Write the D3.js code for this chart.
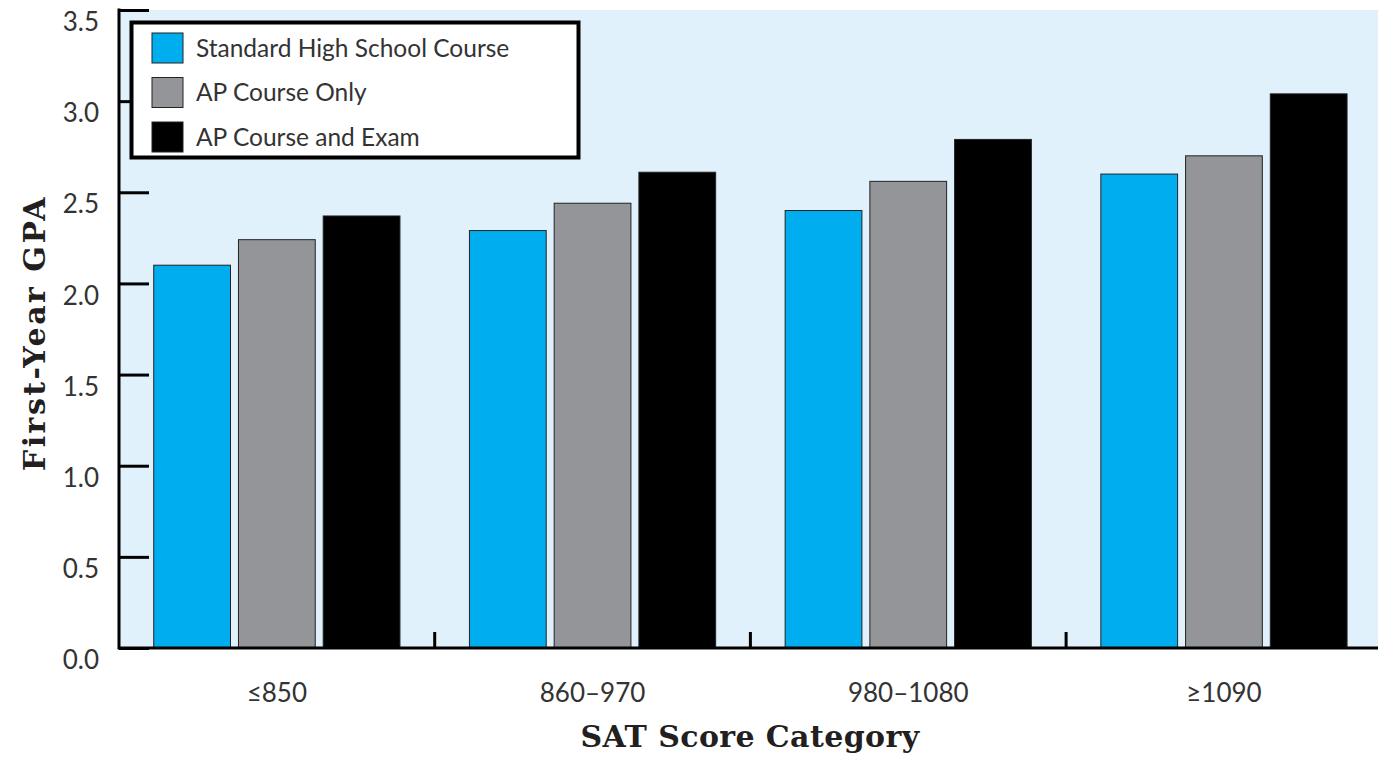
<!DOCTYPE html>
<html>
<head>
<meta charset="utf-8">
<script src="https://cdn.jsdelivr.net/npm/d3@7"></script>
<style>
  body { margin: 0; background: #fff; }
  svg { display: block; }
</style>
</head>
<body>
<svg></svg>
<script>
const categories = ["≤850", "860–970", "980–1080", "≥1090"];
const seriesNames = ["Standard High School Course", "AP Course Only", "AP Course and Exam"];
const standardValues = [2.10, 2.29, 2.40, 2.60];
const apOnlyValues = [2.24, 2.44, 2.56, 2.70];
const apExamValues = [2.37, 2.61, 2.79, 3.04];
const yTicks = [0, 0.5, 1.0, 1.5, 2.0, 2.5, 3.0, 3.5];

const width = 1378, height = 757;
const marginLeft = 119, marginTop = 10, bottomY = 648;
const colors = ["#00aeef", "#939598", "#000000"];

const data = categories.map((c, i) => ({
  category: c,
  values: [standardValues[i], apOnlyValues[i], apExamValues[i]]
}));

const svg = d3.select("svg")
  .attr("width", width)
  .attr("height", height)
  .attr("viewBox", [0, 0, width, height]);

const x = d3.scaleBand()
  .domain(categories)
  .range([marginLeft, marginLeft + 4 * 315.7])
  .padding(0);

const xInner = d3.scaleBand()
  .domain(d3.range(seriesNames.length))
  .range([0, x.bandwidth()])
  .paddingInner(0.094)
  .paddingOuter(0.41);

const y = d3.scaleLinear()
  .domain([0, 3.5])
  .range([bottomY, marginTop]);

// plot background
svg.append("rect")
  .attr("x", marginLeft)
  .attr("y", y(3.5))
  .attr("width", width - marginLeft)
  .attr("height", bottomY - y(3.5))
  .attr("fill", "#e0f1fc");

// bars
svg.append("g")
  .selectAll("g")
  .data(data)
  .join("g")
  .attr("transform", d => `translate(${x(d.category)},0)`)
  .selectAll("rect")
  .data(d => d.values.map((v, i) => ({ v, i })))
  .join("rect")
  .attr("x", d => xInner(d.i))
  .attr("y", d => y(d.v))
  .attr("width", xInner.bandwidth())
  .attr("height", d => y(0) - y(d.v))
  .attr("fill", d => colors[d.i])
  .attr("stroke", "#222")
  .attr("stroke-width", 1);

// y axis
svg.append("g")
  .attr("transform", `translate(${marginLeft},0)`)
  .call(d3.axisRight(y).tickValues(yTicks).tickSize(30).tickFormat(""))
  .call(g => g.select(".domain").remove())
  .call(g => g.selectAll(".tick line").attr("stroke", "#000").attr("stroke-width", 3));

svg.append("line")
  .attr("x1", marginLeft).attr("x2", marginLeft)
  .attr("y1", y(3.5) - 1.5).attr("y2", bottomY + 1.5)
  .attr("stroke", "#000").attr("stroke-width", 3);

svg.append("g")
  .selectAll("text")
  .data(yTicks)
  .join("text")
  .attr("x", 99)
  .attr("y", d => y(d) + 12)
  .attr("dy", "0.35em")
  .attr("text-anchor", "end")
  .attr("fill", "#333")
  .style("font-family", "Lato, 'Noto Sans', sans-serif")
  .style("font-size", "26px")
  .text(d3.format(".1f"));

// x axis
svg.append("line")
  .attr("x1", marginLeft).attr("x2", width)
  .attr("y1", bottomY).attr("y2", bottomY)
  .attr("stroke", "#000").attr("stroke-width", 3);

svg.append("g")
  .selectAll("line")
  .data(categories.slice(1))
  .join("line")
  .attr("x1", d => x(d)).attr("x2", d => x(d))
  .attr("y1", bottomY - 16).attr("y2", bottomY)
  .attr("stroke", "#000").attr("stroke-width", 3);

svg.append("g")
  .selectAll("text")
  .data(categories)
  .join("text")
  .attr("x", d => x(d) + x.bandwidth() / 2)
  .attr("y", 702)
  .attr("text-anchor", "middle")
  .attr("fill", "#333")
  .style("font-family", "Lato, 'Noto Sans', sans-serif")
  .style("font-size", "26px")
  .text(d => d);

// axis titles
svg.append("text")
  .attr("x", 750)
  .attr("y", 747)
  .attr("text-anchor", "middle")
  .attr("fill", "#231f20")
  .style("font-family", "'DejaVu Serif', serif")
  .style("font-weight", "bold")
  .style("font-size", "30px")
  .style("letter-spacing", "0.4px")
  .text("SAT Score Category");

svg.append("text")
  .attr("transform", "translate(45,333) rotate(-90)")
  .attr("text-anchor", "middle")
  .attr("fill", "#231f20")
  .style("font-family", "'DejaVu Serif', serif")
  .style("font-weight", "bold")
  .style("font-size", "30px")
  .style("letter-spacing", "2.5px")
  .text("First-Year GPA");

// legend
const legend = svg.append("g");
legend.append("rect")
  .attr("x", 131.5).attr("y", 22.5)
  .attr("width", 447).attr("height", 135)
  .attr("fill", "#fff")
  .attr("stroke", "#000")
  .attr("stroke-width", 4);

const item = legend.selectAll("g")
  .data(seriesNames)
  .join("g")
  .attr("transform", (d, i) => `translate(152,${33 + i * 44.5})`);

item.append("rect")
  .attr("width", 31).attr("height", 30)
  .attr("fill", (d, i) => colors[i])
  .attr("stroke", "#222")
  .attr("stroke-width", 1);

item.append("text")
  .attr("x", 44)
  .attr("y", 15)
  .attr("dy", "0.35em")
  .attr("fill", "#333")
  .style("font-family", "Lato, 'Noto Sans', sans-serif")
  .style("font-size", "24.5px")
  .text(d => d);
</script>
</body>
</html>
